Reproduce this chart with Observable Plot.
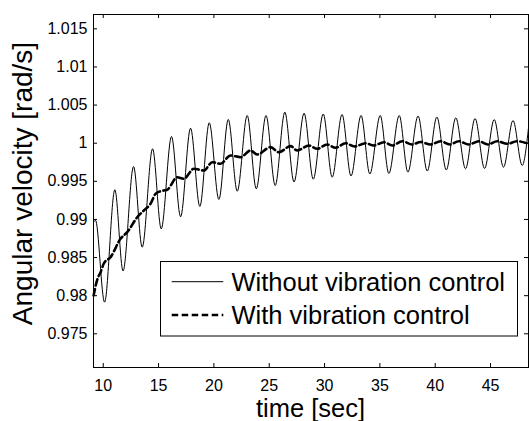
<!DOCTYPE html>
<html>
<head>
<meta charset="utf-8">
<script src="https://cdn.jsdelivr.net/npm/d3@7"></script>
<script src="https://cdn.jsdelivr.net/npm/@observablehq/plot@0.6"></script>
<style>
  html, body { margin: 0; padding: 0; background: #fff; }
  #chart { position: relative; width: 529px; height: 421px; }
</style>
</head>
<body>
<div id="chart"></div>
<script>
// ---- Data ----
const xTicks = [10, 15, 20, 25, 30, 35, 40, 45];
const yTicks = [0.975, 0.98, 0.985, 0.99, 0.995, 1, 1.005, 1.01, 1.015];
const xDomain = [9.12, 48.43];
const yDomain = [0.97058, 1.01688];

const seriesNames = ["Without vibration control", "With vibration control"];
const xLabel = "time [sec]";
const yLabel = "Angular velocity [rad/s]";

// Without vibration control (turning points of the oscillation)
const solidT = [9.12, 9.3, 10.12, 11.05, 11.79, 12.74, 13.52, 14.46, 15.24, 16.17, 16.99, 17.89, 18.73, 19.58, 20.45, 21.30, 22.11, 23.01, 23.83, 24.71, 25.54, 26.41, 27.24, 28.15, 28.98, 29.88, 30.69, 31.58, 32.39, 33.30, 34.09, 35.03, 35.81, 36.75, 37.53, 38.45, 39.28, 40.15, 41.00, 41.86, 42.74, 43.60, 44.46, 45.33, 46.17, 47.03, 47.86, 48.43];
const solidV = [0.9896, 0.9899, 0.97915, 0.99389, 0.98324, 0.99694, 0.98636, 0.99927, 0.98877, 1.00088, 0.99035, 1.00197, 0.99170, 1.00268, 0.99262, 1.00311, 0.99370, 1.00363, 0.99402, 1.00363, 0.99445, 1.00407, 0.99491, 1.00393, 0.99528, 1.00383, 0.99554, 1.00376, 0.99570, 1.00363, 0.99596, 1.00363, 0.99603, 1.00363, 0.99620, 1.00357, 0.99635, 1.00344, 0.99649, 1.00333, 0.99664, 1.00324, 0.99668, 1.00311, 0.99685, 1.00298, 0.99708, 1.0020];

// With vibration control
const dashT = [9.13, 9.46, 9.76, 10.05, 10.66, 11.56, 12.17, 13.07, 13.67, 14.27, 14.73, 15.18, 15.78, 16.69, 17.28, 18.19, 19.09, 19.85, 20.60, 21.50, 22.41, 23.31, 23.92, 25.12, 25.87, 26.93, 27.53, 28.58, 29.34, 30.24, 30.99, 31.90, 32.71, 33.70, 34.45, 35.36, 36.12, 37.02, 37.92, 38.67, 39.58, 40.48, 41.32, 42.13, 43.04, 43.94, 44.76, 45.60, 46.51, 47.41, 48.43];
const dashV = [0.98003, 0.98212, 0.98308, 0.98422, 0.98505, 0.98746, 0.98833, 0.99029, 0.99117, 0.99205, 0.99336, 0.9937, 0.99389, 0.99554, 0.99533, 0.99664, 0.99642, 0.99751, 0.9973, 0.99839, 0.99816, 0.99904, 0.99852, 0.99948, 0.99882, 0.99961, 0.99904, 0.9997, 0.99927, 0.99983, 0.9994, 1.0, 0.99957, 1.0, 0.9997, 1.00013, 0.9997, 1.00026, 0.99983, 1.00016, 0.99983, 1.00026, 0.99983, 1.00026, 0.99983, 1.00026, 0.99983, 1.00026, 0.99992, 1.00026, 0.99992];

// ---- Build tables ----
const solid = solidT.map((t, i) => ({t, v: solidV[i]}));
const dashed = dashT.map((t, i) => ({t, v: dashV[i]}));

const FONT = "'Liberation Sans', Arial, Helvetica, sans-serif";
const W = 529, H = 421;
const mL = 93, mT = 14, mB = 54, mR = 1;
const innerH = H - mT - mB, innerW = W - mL - mR;
const tickLen = 4;

const chart = Plot.plot({
  width: W, height: H,
  marginLeft: mL, marginTop: mT, marginBottom: mB, marginRight: mR,
  style: {fontFamily: FONT, fontSize: "16px", background: "white", color: "black", overflow: "visible"},
  x: {domain: xDomain, label: null},
  y: {domain: yDomain, label: null},
  marks: [
    Plot.axisX({ticks: xTicks, tickSize: 0, tickPadding: 12, label: null, tickFormat: d => String(d)}),
    Plot.axisY({ticks: yTicks, tickSize: 0, tickPadding: 6, label: null, tickFormat: d => String(d)}),
    Plot.tickX(xTicks, {x: d => d, insetTop: innerH - tickLen, stroke: "black"}),
    Plot.tickX(xTicks, {x: d => d, insetBottom: innerH - tickLen, stroke: "black"}),
    Plot.tickY(yTicks, {y: d => d, insetRight: innerW - tickLen, stroke: "black"}),
    Plot.tickY(yTicks, {y: d => d, insetLeft: innerW - tickLen, stroke: "black"}),
    Plot.line(solid, {x: "t", y: "v", curve: "monotone-x", stroke: "black", strokeWidth: 1}),
    Plot.line(dashed, {x: "t", y: "v", curve: "monotone-x", stroke: "black", strokeWidth: 2.6, strokeDasharray: "6.5,3.5"}),
    Plot.frame({stroke: "black", strokeWidth: 1})
  ]
});

document.getElementById("chart").appendChild(chart);

// ---- Axis titles and legend (layout elements) ----
const svg = d3.select(chart);
svg.append("text")
  .attr("x", mL + innerW / 2).attr("y", 417)
  .attr("text-anchor", "middle")
  .attr("font-family", FONT).attr("font-size", 25.5)
  .attr("fill", "black")
  .text(xLabel);

svg.append("text")
  .attr("transform", `translate(31.5,${mT + innerH / 2 - 7}) rotate(-90)`)
  .attr("text-anchor", "middle")
  .attr("font-family", FONT).attr("font-size", 28)
  .attr("fill", "black")
  .text(yLabel);

const lg = svg.append("g");
lg.append("rect")
  .attr("x", 160.5).attr("y", 261.5).attr("width", 357).attr("height", 74.5)
  .attr("fill", "white").attr("stroke", "black").attr("stroke-width", 1);
const rows = [
  {y: 281.7, base: 290.5, dash: null, w: 1},
  {y: 315, base: 323.8, dash: "6.5,3.5", w: 2.6}
];
rows.forEach((r, i) => {
  const ln = lg.append("line")
    .attr("x1", 171.7).attr("x2", 223.3).attr("y1", r.y).attr("y2", r.y)
    .attr("stroke", "black").attr("stroke-width", r.w);
  if (r.dash) ln.attr("stroke-dasharray", r.dash);
  lg.append("text")
    .attr("x", 231.5).attr("y", r.base)
    .attr("text-anchor", "start")
    .attr("font-family", FONT).attr("font-size", 25.5)
    .attr("fill", "black")
    .text(seriesNames[i]);
});
</script>
</body>
</html>
